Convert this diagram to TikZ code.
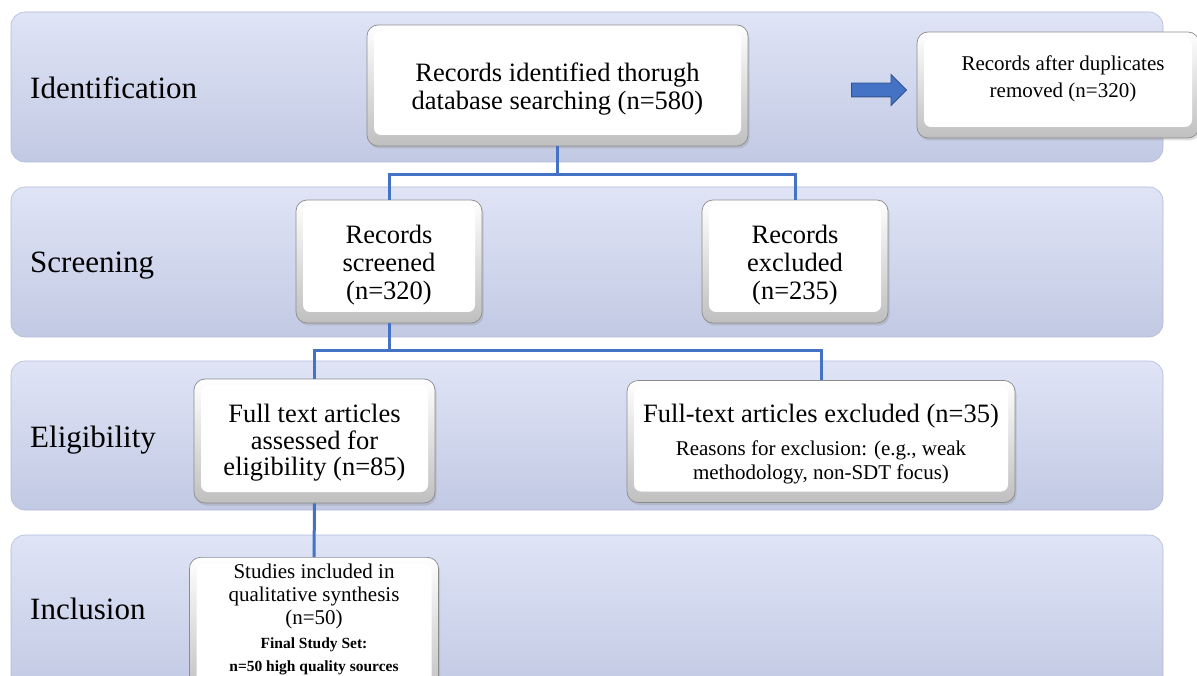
\documentclass[tikz,border=0pt]{standalone}
\usepackage{fontspec}
\setmainfont{Liberation Serif}
\usetikzlibrary{shapes.arrows,shadows}
\definecolor{bandtop}{RGB}{223,228,246}
\definecolor{bandbot}{RGB}{194,201,227}
\definecolor{bandedge}{RGB}{178,186,215}
\definecolor{conncol}{RGB}{68,114,196}
\definecolor{arrowedge}{RGB}{47,82,143}
\definecolor{boxedge}{RGB}{140,140,140}
\newcommand{\smallfs}{\fontsize{21}{23}\selectfont}
\newcommand{\boldfs}{\fontsize{15.5}{23}\selectfont\bfseries}
\newcommand{\topgap}[1]{\rule{0pt}{#1}}
\begin{document}
\begin{tikzpicture}[x=1pt,y=-1pt,
  band/.style={draw=bandedge, line width=0.6pt, rounded corners=14pt, top color=bandtop, bottom color=bandbot},
  stage/.style={anchor=base west, inner sep=0pt, font=\fontsize{31}{34}\selectfont},
  bx/.style={draw=boxedge, line width=0.7pt, rounded corners=11pt, top color=white, bottom color=black!25,
    drop shadow={shadow xshift=1.5pt, shadow yshift=-2.5pt, opacity=0.25},
    path picture={\fill[white, rounded corners=7pt] ([shift={(7pt,-6pt)}]path picture bounding box.north west) rectangle ([shift={(-7pt,11pt)}]path picture bounding box.south east);},
    align=center, inner sep=0pt},
  big/.style={font=\fontsize{26.5}{28}\selectfont},
  conn/.style={draw=conncol, line width=3pt},
  blockarrow/.style={single arrow, draw=arrowedge, fill=conncol, line width=0.8pt, minimum height=55pt, minimum width=30pt, single arrow head extend=8.5pt, inner sep=0pt, text height=6.5pt, text depth=6.5pt, text width=0pt}
]
\useasboundingbox (0,0) rectangle (1197,676);
\clip (0,0) rectangle (1197,676);

% bands
\path[band] (11,12) rectangle (1163,162);
\path[band] (11,187) rectangle (1163,337);
\path[band] (11,361) rectangle (1163,510);
\path[band] (11,535) rectangle (1163,692);

% stage labels
\node[stage] (l1) at (30,99) {Identification};
\node[stage] (l2) at (30,273) {Screening};
\node[stage] (l3) at (30,447) {Eligibility};
\node[stage] (l4) at (30,619) {Inclusion};

% coordinates for junctions
\coordinate (j1) at (0,175);
\coordinate (j2) at (0,351);

% boxes
\node[bx, big, minimum width=381pt, minimum height=121pt] (A) at (557.5,85.5) {\topgap{25pt}Records identified thorugh\\database searching (n=580)};
\node[bx, minimum width=282pt, minimum height=106pt] (B) at (1058,85) {};
\node[align=center, inner sep=0pt, font=\fontsize{21}{27}\selectfont] (Btext) at (1063,79) {Records after duplicates\\removed (n=320)};
\node[blockarrow] (arr) at (875.5,90) {};

\node[bx, big, minimum width=186pt, minimum height=123pt] (C) at (389,261.5) {\topgap{26pt}Records\\screened\\(n=320)};
\node[bx, big, minimum width=186pt, minimum height=123pt] (D) at (795,261.5) {\topgap{26pt}Records\\excluded\\(n=235)};

\node[bx, font=\fontsize{26.5}{26.5}\selectfont, minimum width=241pt, minimum height=124pt] (E) at (314.5,441) {\topgap{22pt}Full text articles\\assessed for\\eligibility (n=85)};
\node[bx, big, minimum width=388pt, minimum height=122pt] (F) at (821,441.5) {\topgap{24pt}Full-text articles excluded (n=35)\\[5pt]\smallfs Reasons for exclusion: (e.g., weak\\[-4pt]\smallfs methodology, non-SDT focus)};

\node[bx, anchor=north, minimum width=249pt, minimum height=140pt] (G) at (314,557) {};
\node[align=center, anchor=north, inner sep=0pt, font=\smallfs] (Gtext) at (314,563.5) {Studies included in\\qualitative synthesis\\(n=50)\\[1pt]\boldfs Final Study Set:\\\boldfs n=50 high quality sources};

% connectors
\draw[conn] (A.south) -- (A.south |- j1) -| (C.north);
\draw[conn] (A.south |- j1) -| (D.north);
\draw[conn] (C.south) -- (C.south |- j2) -| (E.north);
\draw[conn] (C.south |- j2) -| (F.north);
\draw[conn] (E.south) -- (G.north);
\end{tikzpicture}
\end{document}
